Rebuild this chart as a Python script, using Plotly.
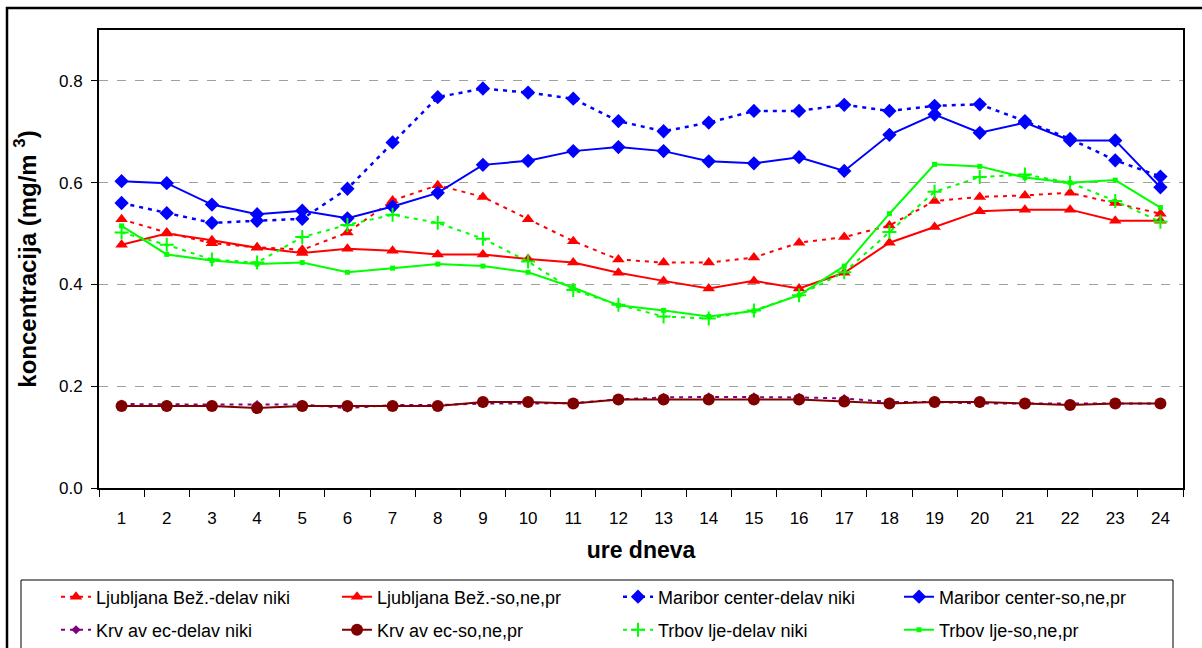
import plotly.graph_objects as go

hours = [str(h) for h in range(1, 25)]

lj_del = [0.528, 0.502, 0.481, 0.473, 0.468, 0.502, 0.565, 0.595, 0.572, 0.528, 0.485, 0.449,
          0.443, 0.443, 0.453, 0.482, 0.493, 0.516, 0.564, 0.572, 0.575, 0.580, 0.560, 0.539]
lj_ned = [0.478, 0.500, 0.487, 0.472, 0.462, 0.470, 0.466, 0.459, 0.459, 0.450, 0.443, 0.423,
          0.407, 0.392, 0.407, 0.392, 0.423, 0.482, 0.513, 0.544, 0.547, 0.547, 0.525, 0.525]
mb_del = [0.560, 0.540, 0.521, 0.525, 0.529, 0.588, 0.679, 0.768, 0.785, 0.777, 0.765, 0.721,
          0.701, 0.718, 0.741, 0.741, 0.753, 0.741, 0.751, 0.754, 0.721, 0.686, 0.644, 0.612]
mb_ned = [0.603, 0.599, 0.557, 0.538, 0.545, 0.530, 0.553, 0.580, 0.635, 0.643, 0.662, 0.670,
          0.662, 0.642, 0.638, 0.650, 0.623, 0.694, 0.734, 0.698, 0.718, 0.683, 0.683, 0.591]
kr_del = [0.165, 0.164, 0.164, 0.164, 0.164, 0.157, 0.163, 0.163, 0.166, 0.166, 0.167, 0.174,
          0.178, 0.179, 0.179, 0.178, 0.176, 0.169, 0.169, 0.166, 0.166, 0.166, 0.166, 0.166]
kr_ned = [0.161, 0.161, 0.161, 0.157, 0.161, 0.161, 0.161, 0.161, 0.169, 0.169, 0.166, 0.174,
          0.174, 0.174, 0.174, 0.174, 0.170, 0.166, 0.169, 0.169, 0.166, 0.163, 0.166, 0.166]
tr_del = [0.502, 0.478, 0.449, 0.443, 0.493, 0.517, 0.537, 0.521, 0.490, 0.445, 0.389, 0.360,
          0.337, 0.333, 0.349, 0.379, 0.424, 0.503, 0.582, 0.611, 0.616, 0.600, 0.564, 0.523]
tr_ned = [0.515, 0.459, 0.447, 0.440, 0.443, 0.424, 0.432, 0.440, 0.436, 0.424, 0.394, 0.359,
          0.349, 0.337, 0.348, 0.379, 0.436, 0.539, 0.636, 0.632, 0.610, 0.600, 0.605, 0.551]

names = ["Ljubljana Bež.-delav niki", "Ljubljana Bež.-so,ne,pr",
         "Maribor center-delav niki", "Maribor center-so,ne,pr",
         "Krv av ec-delav niki", "Krv av ec-so,ne,pr",
         "Trbov lje-delav niki", "Trbov lje-so,ne,pr"]

DOT = "4px,5px"
series = [
    (lj_del, names[0], "#FF0000", DOT, 2, "triangle-up", 11, "legend"),
    (lj_ned, names[1], "#FF0000", "solid", 2, "triangle-up", 11, "legend"),
    (mb_del, names[2], "#0000FF", DOT, 2.5, "diamond", 11, "legend"),
    (mb_ned, names[3], "#0000FF", "solid", 2, "diamond", 11, "legend"),
    (kr_del, names[4], "#800080", DOT, 2, "diamond", 7, "legend2"),
    (kr_ned, names[5], "#800000", "solid", 2, "circle", 12, "legend2"),
    (tr_del, names[6], "#00FF00", DOT, 2, "cross-thin-open", 10, "legend2"),
    (tr_ned, names[7], "#00FF00", "solid", 2, "square", 5, "legend2"),
]

fig = go.Figure()
for vals, nm, col, dash, lw, sym, ms, lg in series:
    mk = dict(symbol=sym, size=ms, color=col)
    if sym == "cross-thin-open":
        mk["line"] = dict(color=col, width=2)
    fig.add_trace(go.Scatter(
        x=hours, y=vals, name=nm, mode="lines+markers",
        line=dict(color=col, width=lw, dash=dash),
        marker=mk, legend=lg))

W, H = 1202, 648
L, R, T, B = 99, 19, 30, 160
PW, PH = W - L - R, H - T - B


def px(x):
    return (x - L) / PW


def py(y):
    return (H - B - y) / PH


fig.update_layout(
    width=W, height=H,
    margin=dict(l=L, r=R, t=T, b=B, autoexpand=False),
    paper_bgcolor="white", plot_bgcolor="white",
    font=dict(family="Liberation Sans, Arial, sans-serif", size=17, color="black"),
    xaxis=dict(
        type="category", range=[-0.5, 23.5], tickson="boundaries", ticks="outside", ticklen=7,
        tickcolor="black", showline=True, linecolor="black", linewidth=2,
        mirror=True, showgrid=False, ticklabelstandoff=14,
        title=dict(text="<b>ure dneva</b>", font=dict(size=23), standoff=14),
        tickfont=dict(size=17),
    ),
    yaxis=dict(
        range=[0, 0.9], tickvals=[0, 0.2, 0.4, 0.6, 0.8], tickformat=".1f",
        ticks="outside", ticklen=6, tickcolor="black", ticklabelstandoff=5,
        showline=True, linecolor="black", linewidth=2, mirror=True,
        showgrid=True, gridcolor="#A0A0A0", griddash="dash", gridwidth=1,
        zeroline=False,
        title=dict(text="<b>koncentracija (mg/m <sup>3</sup>)</b>", font=dict(size=24), standoff=16),
        tickfont=dict(size=17),
    ),
    legend=dict(orientation="h", x=px(56), xanchor="left", y=py(597), yanchor="middle",
                entrywidth=236, entrywidthmode="pixels", bgcolor="rgba(0,0,0,0)",
                font=dict(size=18)),
    legend2=dict(orientation="h", x=px(56), xanchor="left", y=py(630), yanchor="middle",
                 entrywidth=236, entrywidthmode="pixels", bgcolor="rgba(0,0,0,0)",
                 font=dict(size=18)),
    shapes=[
        dict(type="rect", xref="paper", yref="paper", x0=px(7), x1=px(1215), y0=py(700), y1=py(8),
             line=dict(color="black", width=2.5), layer="below"),
        dict(type="rect", xref="paper", yref="paper", x0=px(21), x1=px(1173), y0=py(700), y1=py(580),
             line=dict(color="black", width=1), layer="below"),
    ],
    showlegend=True,
)

fig.write_html("out.html", config={"displayModeBar": False},
               post_script="document.body.style.margin='0';document.body.style.overflow='hidden';")
